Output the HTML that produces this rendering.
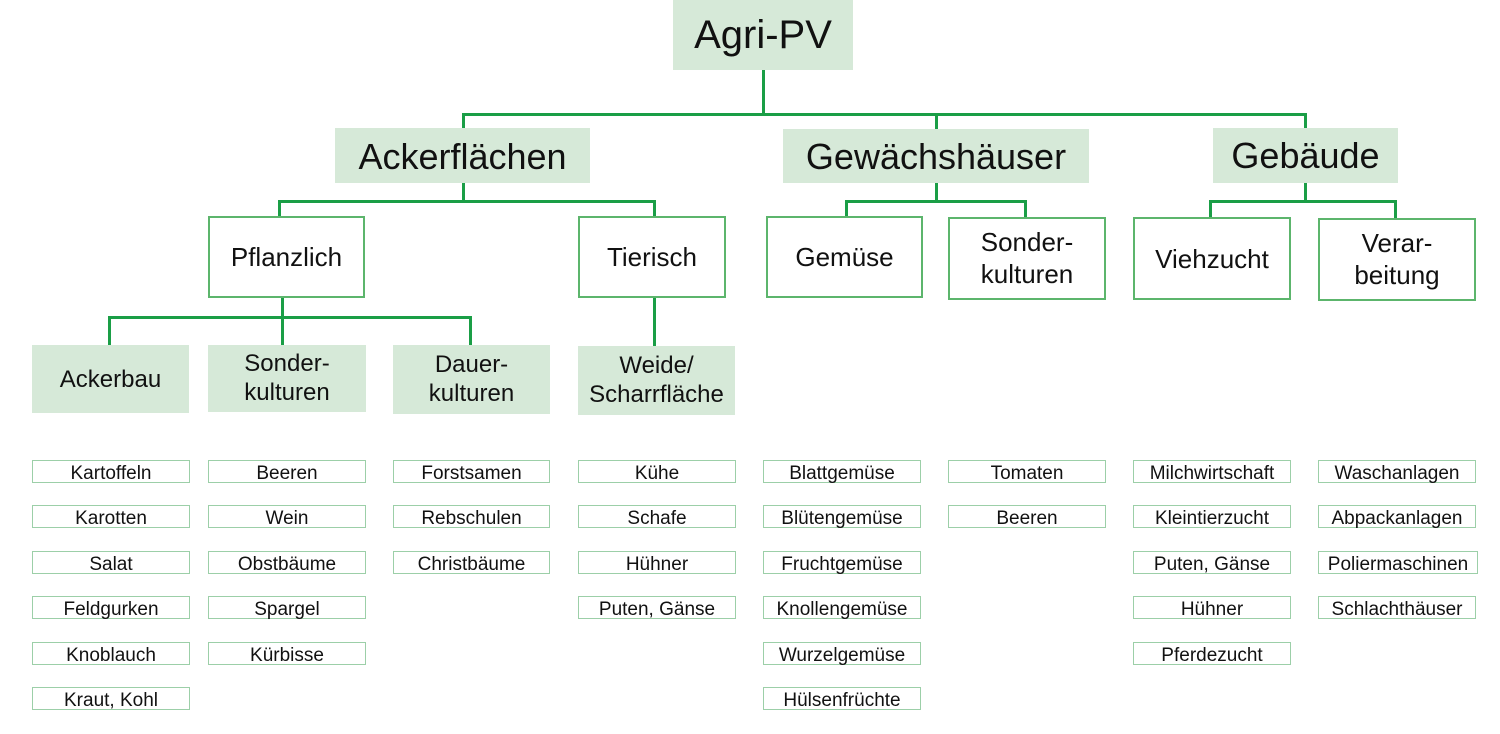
<!DOCTYPE html>
<html><head><meta charset="utf-8"><style>
body{margin:0;width:1500px;height:734px;background:#fff;position:relative;overflow:hidden;font-family:"Liberation Sans",sans-serif;color:#111}
.b{position:absolute;box-sizing:border-box;display:flex;align-items:center;justify-content:center;text-align:center;line-height:1.2}
.f{background:#d6e9d8}
.o{border:2px solid #5cb56c;background:#fff;font-size:26px}
.s{border:1.5px solid #9ccfa8;background:#fff;font-size:19px;height:23px;line-height:1;padding-top:3px}
.l{position:absolute;background:#1a9e46}
</style></head><body>
<div class="l" style="left:762px;top:70px;width:3px;height:46px"></div>
<div class="l" style="left:462px;top:113px;width:845px;height:3px"></div>
<div class="l" style="left:462px;top:113px;width:3px;height:16px"></div>
<div class="l" style="left:935px;top:113px;width:3px;height:16px"></div>
<div class="l" style="left:1304px;top:113px;width:3px;height:16px"></div>
<div class="l" style="left:462px;top:183px;width:3px;height:19px"></div>
<div class="l" style="left:278px;top:200px;width:378px;height:3px"></div>
<div class="l" style="left:278px;top:200px;width:3px;height:16px"></div>
<div class="l" style="left:653px;top:200px;width:3px;height:16px"></div>
<div class="l" style="left:935px;top:183px;width:3px;height:19px"></div>
<div class="l" style="left:845px;top:200px;width:182px;height:3px"></div>
<div class="l" style="left:845px;top:200px;width:3px;height:16px"></div>
<div class="l" style="left:1024px;top:200px;width:3px;height:17px"></div>
<div class="l" style="left:1304px;top:183px;width:3px;height:19px"></div>
<div class="l" style="left:1209px;top:200px;width:188px;height:3px"></div>
<div class="l" style="left:1209px;top:200px;width:3px;height:17px"></div>
<div class="l" style="left:1394px;top:200px;width:3px;height:18px"></div>
<div class="l" style="left:281px;top:298px;width:3px;height:20px"></div>
<div class="l" style="left:108px;top:316px;width:364px;height:3px"></div>
<div class="l" style="left:108px;top:316px;width:3px;height:30px"></div>
<div class="l" style="left:281px;top:316px;width:3px;height:30px"></div>
<div class="l" style="left:469px;top:316px;width:3px;height:30px"></div>
<div class="l" style="left:653px;top:298px;width:3px;height:48px"></div>
<div class="b f" style="left:673px;top:0;width:180px;height:70px;font-size:40px">Agri-PV</div>
<div class="b f" style="left:335px;top:128px;width:255px;height:55px;font-size:36px;padding-top:2px">Ackerflächen</div>
<div class="b f" style="left:783px;top:129px;width:306px;height:54px;font-size:36px;padding-top:2px">Gewächshäuser</div>
<div class="b f" style="left:1213px;top:128px;width:185px;height:55px;font-size:36px">Gebäude</div>
<div class="b f" style="left:32px;top:345px;width:157px;height:68px;font-size:24px;padding-top:2px">Ackerbau</div>
<div class="b f" style="left:208px;top:345px;width:158px;height:67px;font-size:24px">Sonder-<br>kulturen</div>
<div class="b f" style="left:393px;top:345px;width:157px;height:69px;font-size:24px">Dauer-<br>kulturen</div>
<div class="b f" style="left:578px;top:346px;width:157px;height:69px;font-size:24px">Weide/<br>Scharrfläche</div>
<div class="b o" style="left:208px;top:216px;width:157px;height:82px;padding-top:2px">Pflanzlich</div>
<div class="b o" style="left:578px;top:216px;width:148px;height:82px;padding-top:2px">Tierisch</div>
<div class="b o" style="left:766px;top:216px;width:157px;height:82px;padding-top:2px">Gemüse</div>
<div class="b o" style="left:948px;top:217px;width:158px;height:83px">Sonder-<br>kulturen</div>
<div class="b o" style="left:1133px;top:217px;width:158px;height:83px;padding-top:2px">Viehzucht</div>
<div class="b o" style="left:1318px;top:218px;width:158px;height:83px">Verar-<br>beitung</div>
<div class="b s" style="left:32px;top:460px;width:158px">Kartoffeln</div>
<div class="b s" style="left:32px;top:505px;width:158px">Karotten</div>
<div class="b s" style="left:32px;top:551px;width:158px">Salat</div>
<div class="b s" style="left:32px;top:596px;width:158px">Feldgurken</div>
<div class="b s" style="left:32px;top:642px;width:158px">Knoblauch</div>
<div class="b s" style="left:32px;top:687px;width:158px">Kraut, Kohl</div>
<div class="b s" style="left:208px;top:460px;width:158px">Beeren</div>
<div class="b s" style="left:208px;top:505px;width:158px">Wein</div>
<div class="b s" style="left:208px;top:551px;width:158px">Obstbäume</div>
<div class="b s" style="left:208px;top:596px;width:158px">Spargel</div>
<div class="b s" style="left:208px;top:642px;width:158px">Kürbisse</div>
<div class="b s" style="left:393px;top:460px;width:157px">Forstsamen</div>
<div class="b s" style="left:393px;top:505px;width:157px">Rebschulen</div>
<div class="b s" style="left:393px;top:551px;width:157px">Christbäume</div>
<div class="b s" style="left:578px;top:460px;width:158px">Kühe</div>
<div class="b s" style="left:578px;top:505px;width:158px">Schafe</div>
<div class="b s" style="left:578px;top:551px;width:158px">Hühner</div>
<div class="b s" style="left:578px;top:596px;width:158px">Puten, Gänse</div>
<div class="b s" style="left:763px;top:460px;width:158px">Blattgemüse</div>
<div class="b s" style="left:763px;top:505px;width:158px">Blütengemüse</div>
<div class="b s" style="left:763px;top:551px;width:158px">Fruchtgemüse</div>
<div class="b s" style="left:763px;top:596px;width:158px">Knollengemüse</div>
<div class="b s" style="left:763px;top:642px;width:158px">Wurzelgemüse</div>
<div class="b s" style="left:763px;top:687px;width:158px">Hülsenfrüchte</div>
<div class="b s" style="left:948px;top:460px;width:158px">Tomaten</div>
<div class="b s" style="left:948px;top:505px;width:158px">Beeren</div>
<div class="b s" style="left:1133px;top:460px;width:158px">Milchwirtschaft</div>
<div class="b s" style="left:1133px;top:505px;width:158px">Kleintierzucht</div>
<div class="b s" style="left:1133px;top:551px;width:158px">Puten, Gänse</div>
<div class="b s" style="left:1133px;top:596px;width:158px">Hühner</div>
<div class="b s" style="left:1133px;top:642px;width:158px">Pferdezucht</div>
<div class="b s" style="left:1318px;top:460px;width:158px">Waschanlagen</div>
<div class="b s" style="left:1318px;top:505px;width:158px">Abpackanlagen</div>
<div class="b s" style="left:1318px;top:551px;width:160px">Poliermaschinen</div>
<div class="b s" style="left:1318px;top:596px;width:158px">Schlachthäuser</div>
</body></html>
